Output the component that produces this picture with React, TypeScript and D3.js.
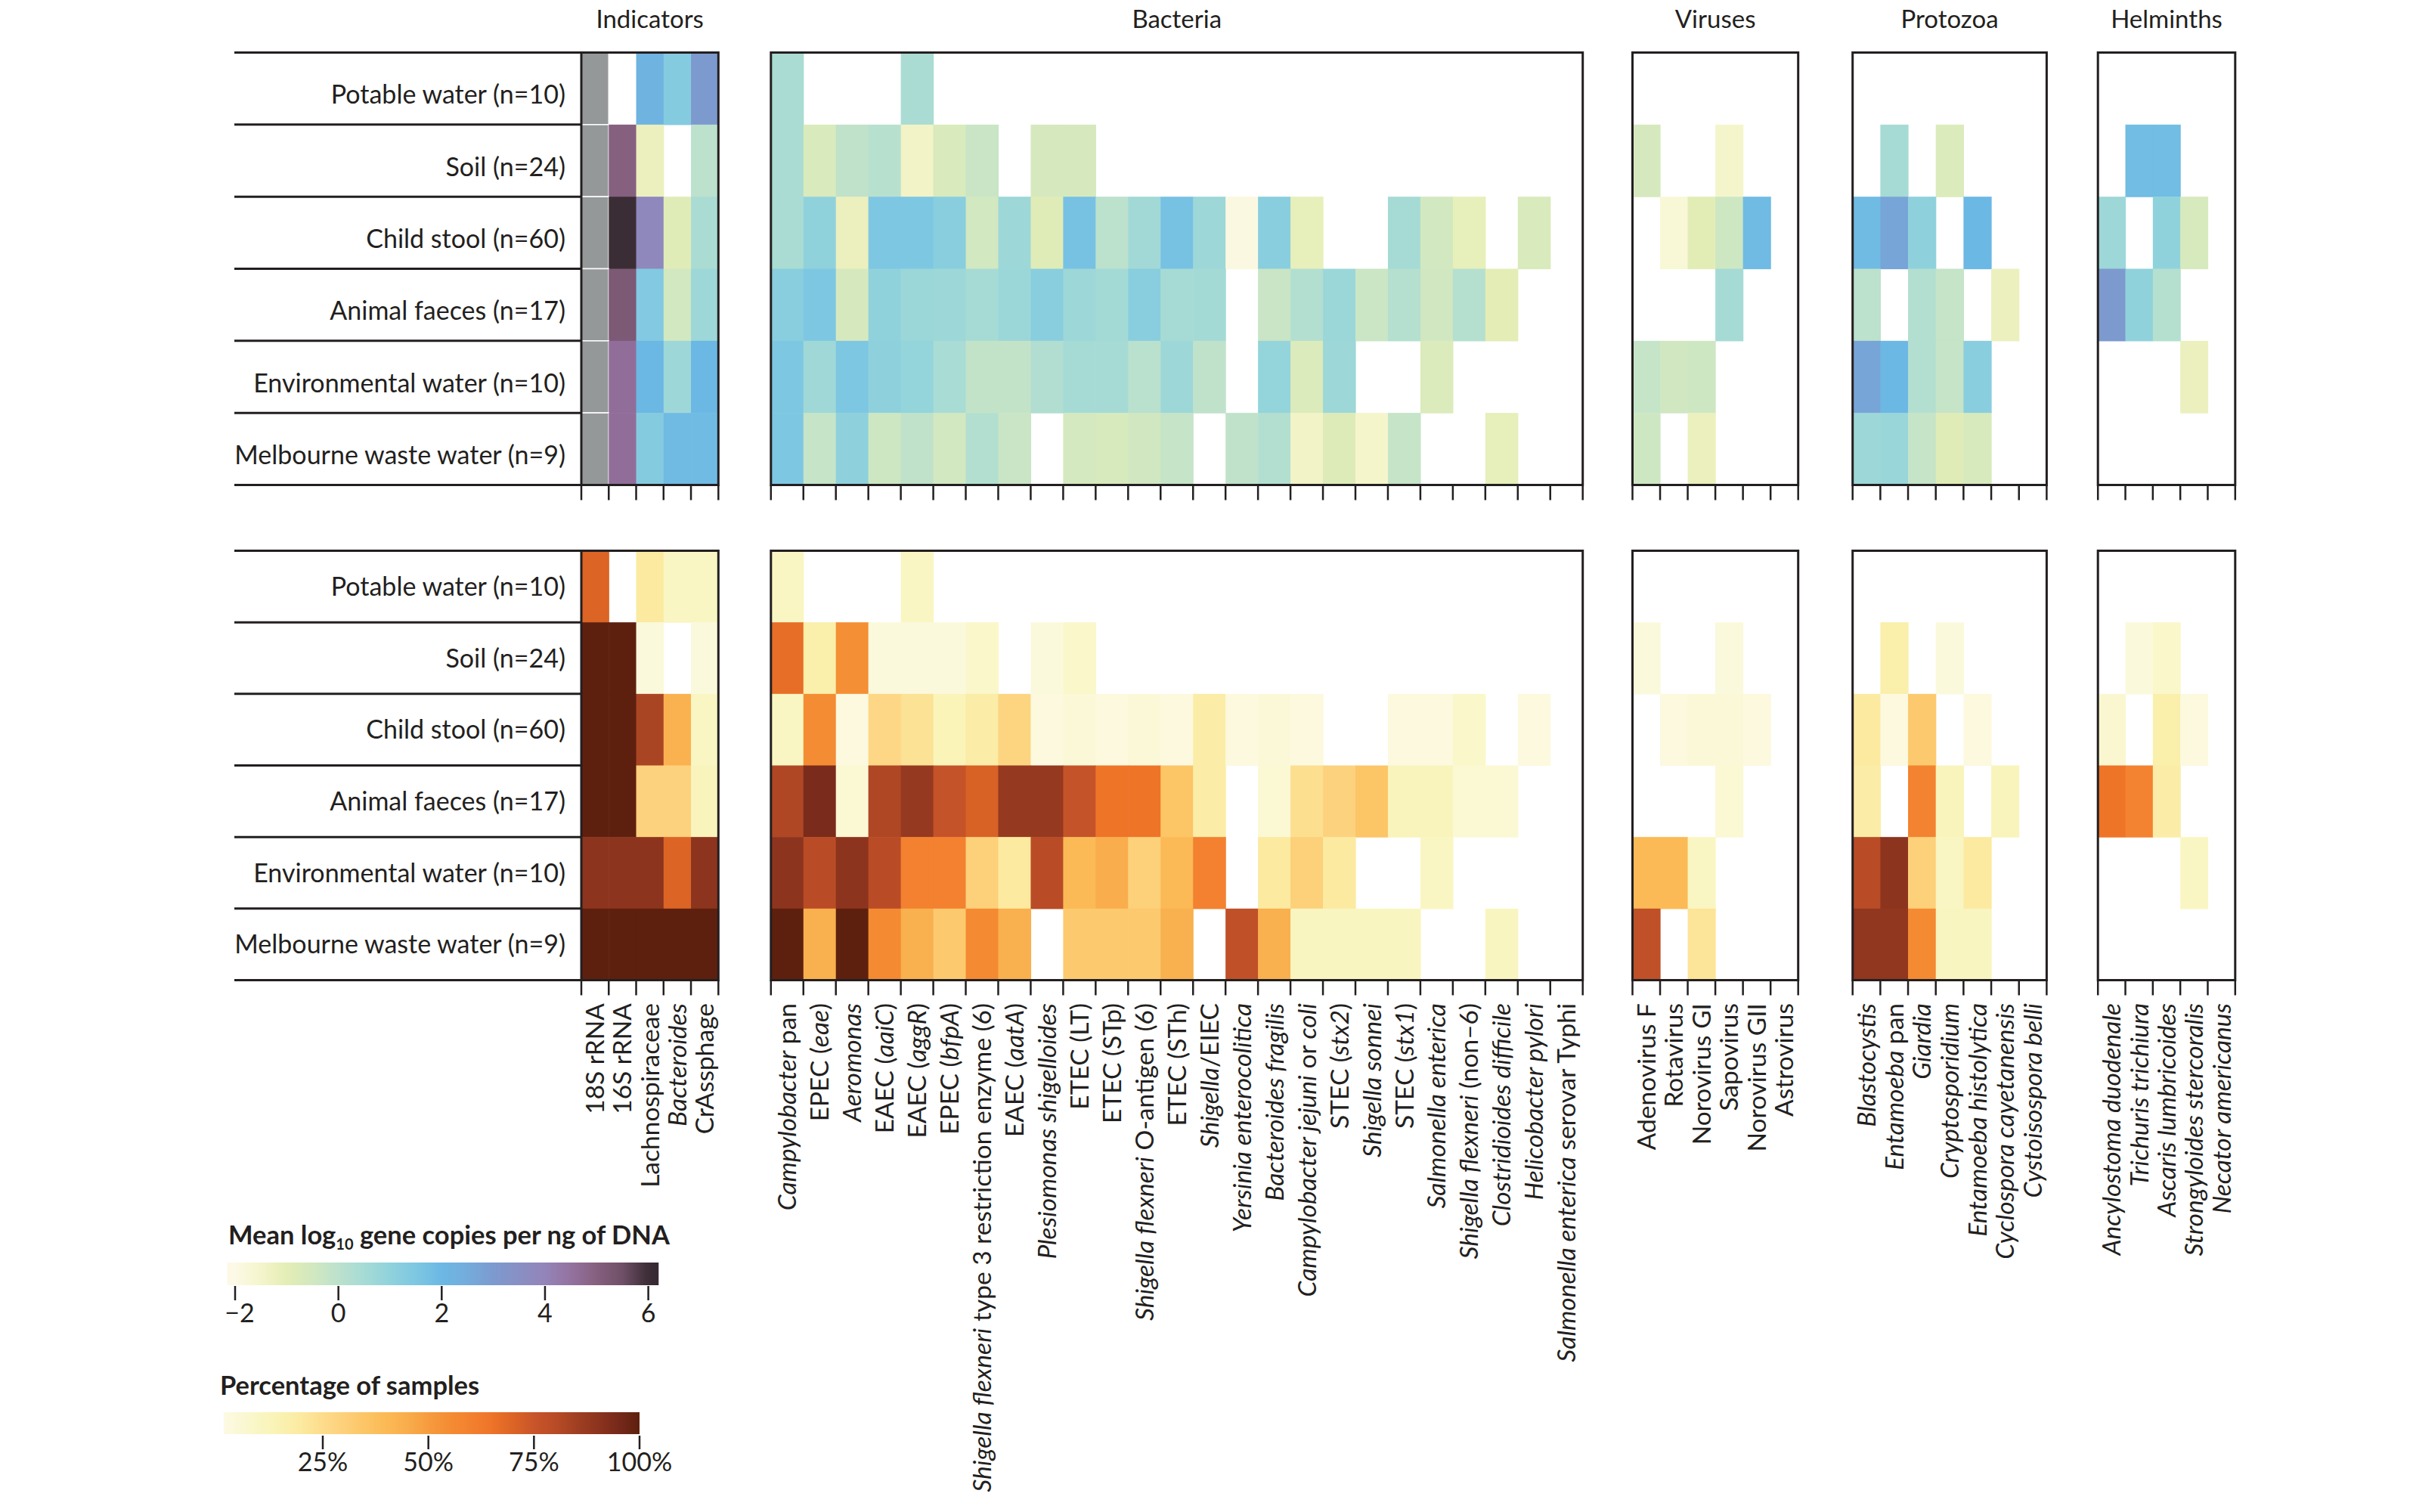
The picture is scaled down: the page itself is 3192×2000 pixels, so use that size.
import React from "react";
import * as d3 from "d3";

// ---------- DATA ----------
const sampleTypes = [
  "Potable water (n=10)",
  "Soil (n=24)",
  "Child stool (n=60)",
  "Animal faeces (n=17)",
  "Environmental water (n=10)",
  "Melbourne waste water (n=9)",
];

const indicatorTargets = ["18S rRNA", "16S rRNA", "Lachnospiraceae", "*Bacteroides*", "CrAssphage"];
const bacteriaTargets = [
  "*Campylobacter* pan",
  "EPEC (*eae*)",
  "*Aeromonas*",
  "EAEC (*aaiC*)",
  "EAEC (*aggR*)",
  "EPEC (*bfpA*)",
  "*Shigella flexneri* type 3 restriction enzyme (6)",
  "EAEC (*aatA*)",
  "*Plesiomonas shigelloides*",
  "ETEC (LT)",
  "ETEC (STp)",
  "*Shigella flexneri* O-antigen (6)",
  "ETEC (STh)",
  "*Shigella*/EIEC",
  "*Yersinia enterocolitica*",
  "*Bacteroides fragilis*",
  "*Campylobacter jejuni* or *coli*",
  "STEC (*stx2*)",
  "*Shigella sonnei*",
  "STEC (*stx1*)",
  "*Salmonella enterica*",
  "*Shigella flexneri* (non–6)",
  "*Clostridioides difficile*",
  "*Helicobacter pylori*",
  "*Salmonella enterica* serovar Typhi",
];
const virusTargets = ["Adenovirus F", "Rotavirus", "Norovirus GI", "Sapovirus", "Norovirus GII", "Astrovirus"];
const protozoaTargets = [
  "*Blastocystis*",
  "*Entamoeba* pan",
  "*Giardia*",
  "*Cryptosporidium*",
  "*Entamoeba histolytica*",
  "*Cyclospora cayetanensis*",
  "*Cystoisospora belli*",
];
const helminthTargets = [
  "*Ancylostoma duodenale*",
  "*Trichuris trichiura*",
  "*Ascaris lumbricoides*",
  "*Strongyloides stercoralis*",
  "*Necator americanus*",
];

// "nq" = not quantified (grey), null = not detected (blank)
const NQ = "nq";
const _ = null;

// Mean log10 gene copies per ng of DNA
const indicatorLog = [
  [NQ, _, 2.2, 1.3, 3.0],
  [NQ, 5.0, -1.2, _, 0.0],
  [NQ, 6.0, 3.8, -0.9, 0.4],
  [NQ, 5.2, 1.4, -0.5, 0.7],
  [NQ, 4.6, 2.0, 0.7, 2.0],
  [NQ, 4.6, 1.3, 1.9, 1.9],
];
const bacteriaLog = [
  [0.4, _, _, _, 0.4, _, _, _, _, _, _, _, _, _, _, _, _, _, _, _, _, _, _, _, _],
  [0.4, -0.7, -0.1, 0.1, -1.4, -0.7, -0.3, _, -0.6, -0.6, _, _, _, _, _, _, _, _, _, _, _, _, _, _, _],
  [0.4, 1.0, -1.2, 1.5, 1.5, 1.2, -0.5, 0.7, -0.9, 1.7, 0.0, 0.6, 1.7, 0.7, -1.9, 1.2, -1.1, _, _, 0.5, -0.5, -1.1, _, -0.7, _],
  [1.2, 1.5, -0.6, 1.0, 0.75, 0.7, 0.5, 0.75, 1.2, 0.7, 0.55, 1.2, 0.5, 0.55, _, -0.3, 0.2, 0.75, -0.35, 0.15, -0.45, 0.15, -1.0, _, _],
  [1.5, 0.65, 1.5, 1.05, 0.9, 0.45, -0.15, -0.15, 0.25, 0.5, 0.5, 0.05, 0.7, -0.1, _, 0.9, -0.75, 0.7, _, _, -0.75, _, _, _, _],
  [1.5, -0.2, 1.05, -0.4, -0.1, -0.5, 0.2, -0.3, _, -0.55, -0.65, -0.45, -0.2, _, -0.1, 0.2, -1.4, -0.8, -1.5, -0.2, _, _, -1.1, _, _],
];
const virusLog = [
  [_, _, _, _, _, _],
  [-0.6, _, _, -1.5, _, _],
  [_, -1.7, -0.95, -0.4, 1.9, _],
  [_, _, _, 0.5, _, _],
  [-0.2, -0.45, -0.4, _, _, _],
  [-0.4, _, -1.2, _, _, _],
];
const protozoaLog = [
  [_, _, _, _, _, _, _],
  [_, 0.5, _, -0.75, _, _, _],
  [1.9, 2.7, 1.05, _, 2.0, _, _],
  [0.0, _, 0.2, -0.2, _, -1.2, _],
  [2.7, 2.0, 0.2, -0.2, 1.2, _, _],
  [0.7, 0.8, -0.2, -0.9, -0.65, _, _],
];
const helminthLog = [
  [_, _, _, _, _],
  [_, 1.85, 1.85, _, _],
  [0.7, _, 1.0, -0.65, _],
  [3.0, 1.0, 0.15, _, _],
  [_, _, _, -1.2, _],
  [_, _, _, _, _],
];

// Percentage of samples positive
const indicatorPct = [
  [70, _, 20, 10, 10],
  [100, 100, 4, _, 4],
  [100, 100, 83, 43, 10],
  [100, 100, 29, 29, 12],
  [90, 90, 90, 70, 90],
  [100, 100, 100, 100, 100],
];
const bacteriaPct = [
  [10, _, _, _, 10, _, _, _, _, _, _, _, _, _, _, _, _, _, _, _, _, _, _, _, _],
  [67, 17, 54, 4, 4, 4, 8, _, 4, 8, _, _, _, _, _, _, _, _, _, _, _, _, _, _, _],
  [10, 55, 3, 27, 23, 13, 18, 28, 3, 5, 3, 5, 3, 18, 3, 5, 3, _, _, 3, 3, 8, _, 3, _],
  [82, 94, 6, 82, 88, 76, 71, 88, 88, 76, 65, 65, 35, 18, _, 6, 24, 29, 35, 12, 12, 6, 6, _, _],
  [90, 80, 90, 80, 60, 60, 30, 20, 80, 40, 45, 30, 40, 60, _, 20, 30, 20, _, _, 10, _, _, _, _],
  [100, 44, 100, 56, 44, 33, 56, 44, _, 33, 33, 33, 44, _, 78, 44, 11, 11, 11, 11, _, _, 11, _, _],
];
const virusPct = [
  [_, _, _, _, _, _],
  [4, _, _, 4, _, _],
  [_, 3, 5, 5, 3, _],
  [_, _, _, 6, _, _],
  [40, 40, 10, _, _, _],
  [78, _, 22, _, _, _],
];
const protozoaPct = [
  [_, _, _, _, _, _, _],
  [_, 17, _, 4, _, _, _],
  [20, 3, 33, _, 3, _, _],
  [18, _, 59, 12, _, 12, _],
  [80, 90, 30, 10, 20, _, _],
  [89, 89, 56, 11, 11, _, _],
];
const helminthPct = [
  [_, _, _, _, _],
  [_, 4, 8, _, _],
  [7, _, 17, 3, _],
  [65, 59, 18, _, _],
  [_, _, _, 10, _],
  [_, _, _, _, _],
];

const groupTitles = ["Indicators", "Bacteria", "Viruses", "Protozoa", "Helminths"];
const logTicks = [-2, 0, 2, 4, 6];
const pctTicks = [25, 50, 75, 100];

// ---------- STYLE / LAYOUT ----------
const FONT = "Lato, 'Open Sans', sans-serif";
const INK = "#231f20";
const GREY = "#959899";

const logStops = [-2.15, -2, -1.5, -1, -0.5, 0, 0.5, 1, 1.5, 2, 2.5, 3, 4, 4.5, 5, 5.5, 6, 6.2];
const logColors = [
  "#fcf8e4", "#fcf9e6", "#f5f5cc", "#e4edb5", "#d2e8c0", "#bce1cd", "#a6dbd5", "#90d2dc", "#7ec7e2",
  "#6cb8e4", "#74acdc", "#7d9acf", "#9484b9", "#9472a0", "#85607f", "#6f4f67", "#3b2d35", "#352832",
];
const pctStops = [0, 5, 10, 15, 20, 25, 30, 35, 40, 45, 50, 55, 60, 65, 70, 75, 80, 85, 90, 95, 100];
const pctColors = [
  "#fdfbea", "#fbf8d8", "#f9f6c3", "#faf2b2", "#fbeaa0", "#fddc8c", "#fdd07a", "#fcc566", "#fbba55",
  "#f9ad4c", "#f69c3e", "#f48c33", "#f3812f", "#ee7428", "#dc6425", "#c8552a", "#b94c26", "#a04022",
  "#8d341e", "#76291a", "#5e200e",
];

const logColor = d3.scaleLinear<string>().domain(logStops).range(logColors).interpolate(d3.interpolateRgb).clamp(true);
const pctColor = d3.scaleLinear<string>().domain(pctStops).range(pctColors).interpolate(d3.interpolateRgb).clamp(true);

const panelX: [number, number][] = [
  [769, 950.3],
  [1019.8, 2093.7],
  [2159.5, 2378.7],
  [2450.7, 2707.4],
  [2775.2, 2956.8],
];
const TOP_Y: [number, number] = [69.5, 641.5];
const BOT_Y: [number, number] = [728.5, 1296.5];
const LABEL_LINE_X0 = 310;
const LABEL_RIGHT = 748;
const TICK_LEN = 20;
const COL_LABEL_Y = 1327;
const ROW_FS = 34;
const COL_FS = 33.5;
const TITLE_FS = 33;
const LEGEND_TITLE_FS = 34.5;

const groups = [
  { targets: indicatorTargets, log: indicatorLog, pct: indicatorPct },
  { targets: bacteriaTargets, log: bacteriaLog, pct: bacteriaPct },
  { targets: virusTargets, log: virusLog, pct: virusPct },
  { targets: protozoaTargets, log: protozoaLog, pct: protozoaPct },
  { targets: helminthTargets, log: helminthLog, pct: helminthPct },
];

function Rich({ s }: { s: string }) {
  const parts = s.split("*");
  return (
    <>
      {parts.map((p, i) =>
        p ? (
          <tspan key={i} fontStyle={i % 2 === 1 ? "italic" : "normal"}>
            {p}
          </tspan>
        ) : null
      )}
    </>
  );
}

function Panel({
  gi,
  values,
  yRange,
  color,
  showLabels,
}: {
  gi: number;
  values: any[][];
  yRange: [number, number];
  color: (v: number) => string;
  showLabels: boolean;
}) {
  const g = groups[gi];
  const [x0, x1] = panelX[gi];
  const x = d3.scaleBand<string>().domain(g.targets).range([x0, x1]).padding(0);
  const y = d3.scaleBand<string>().domain(sampleTypes).range(yRange).padding(0);
  const bw = x.bandwidth();
  const bh = y.bandwidth();
  const boundaries = [...g.targets.map((t) => x(t) as number), x1];
  return (
    <g>
      {sampleTypes.map((row, i) =>
        g.targets.map((t, j) => {
          const v = values[i][j];
          if (v === null || v === undefined) return null;
          const isNQ = v === NQ;
          return (
            <rect
              key={`${i}-${j}`}
              x={x(t)}
              y={y(row)}
              width={bw + (isNQ ? 0 : 0.6)}
              height={bh + (isNQ ? 0 : 0.6)}
              fill={isNQ ? GREY : color(v as number)}
              stroke={isNQ ? "#ffffff" : "none"}
              strokeWidth={isNQ ? 1.5 : 0}
            />
          );
        })
      )}
      <rect x={x0} y={yRange[0]} width={x1 - x0} height={yRange[1] - yRange[0]} fill="none" stroke={INK} strokeWidth={3} />
      {boundaries.map((bx, k) => (
        <line key={k} x1={bx} x2={bx} y1={yRange[1]} y2={yRange[1] + TICK_LEN} stroke={INK} strokeWidth={2.5} />
      ))}
      {showLabels &&
        g.targets.map((t) => {
          const cx = (x(t) as number) + bw / 2 + COL_FS * 0.36;
          return (
            <text
              key={t}
              transform={`translate(${cx},${COL_LABEL_Y}) rotate(-90)`}
              textAnchor="end"
              fontSize={COL_FS}
              fill={INK}
            >
              <Rich s={t} />
            </text>
          );
        })}
    </g>
  );
}

function RowLabels({ yRange, dy }: { yRange: [number, number]; dy: number }) {
  const y = d3.scaleBand<string>().domain(sampleTypes).range(yRange).padding(0);
  const bounds = [...sampleTypes.map((s) => y(s) as number), yRange[1]];
  return (
    <g>
      {bounds.map((by, k) => (
        <line key={k} x1={LABEL_LINE_X0} x2={panelX[0][0]} y1={by} y2={by} stroke={INK} strokeWidth={3} />
      ))}
      {sampleTypes.map((s) => (
        <text
          key={s}
          x={LABEL_RIGHT}
          y={(y(s) as number) + y.bandwidth() / 2 + dy}
          textAnchor="end"
          fontSize={ROW_FS}
          fill={INK}
        >
          {s}
        </text>
      ))}
    </g>
  );
}

function Legends() {
  const lx = d3.scaleLinear().domain([-2, 6]).range([311, 857.6]);
  const lDom: [number, number] = [-2.15, 6.2];
  const px = d3.scaleLinear().domain([25, 100]).range([427, 846]);
  const pDom: [number, number] = [1.6, 100];
  const nStops = 60;
  const logGrad = d3.range(nStops + 1).map((k) => {
    const v = lDom[0] + ((lDom[1] - lDom[0]) * k) / nStops;
    return { off: (k / nStops) * 100, c: logColor(v) };
  });
  const pctGrad = d3.range(nStops + 1).map((k) => {
    const v = pDom[0] + ((pDom[1] - pDom[0]) * k) / nStops;
    return { off: (k / nStops) * 100, c: pctColor(v) };
  });
  return (
    <g>
      <defs>
        <linearGradient id="logGrad" x1="0" x2="1" y1="0" y2="0">
          {logGrad.map((s, i) => (
            <stop key={i} offset={`${s.off}%`} stopColor={s.c} />
          ))}
        </linearGradient>
        <linearGradient id="pctGrad" x1="0" x2="1" y1="0" y2="0">
          {pctGrad.map((s, i) => (
            <stop key={i} offset={`${s.off}%`} stopColor={s.c} />
          ))}
        </linearGradient>
      </defs>
      <text x={302} y={1646} fontSize={LEGEND_TITLE_FS} fontWeight={700} fill={INK}>
        Mean log
        <tspan fontSize={20} dy={7}>
          10
        </tspan>
        <tspan dy={-7}> gene copies per ng of DNA</tspan>
      </text>
      <rect x={lx(lDom[0])} y={1670} width={lx(lDom[1]) - lx(lDom[0])} height={30} fill="url(#logGrad)" />
      {logTicks.map((t) => (
        <g key={t}>
          <line x1={lx(t)} x2={lx(t)} y1={1701} y2={1720} stroke={INK} strokeWidth={2.5} />
          <text x={lx(t) + (t < 0 ? 6 : 0)} y={1749} fontSize={34} textAnchor="middle" fill={INK}>
            {t < 0 ? `−${Math.abs(t)}` : t}
          </text>
        </g>
      ))}
      <text x={291} y={1845} fontSize={LEGEND_TITLE_FS} fontWeight={700} fill={INK}>
        Percentage of samples
      </text>
      <rect x={296} y={1868} width={px(pDom[1]) - 296} height={29} fill="url(#pctGrad)" />
      {pctTicks.map((t) => (
        <g key={t}>
          <line x1={px(t)} x2={px(t)} y1={1899} y2={1917} stroke={INK} strokeWidth={2.5} />
          <text x={px(t)} y={1946} fontSize={34} textAnchor="middle" fill={INK}>
            {`${t}%`}
          </text>
        </g>
      ))}
    </g>
  );
}

export default function App() {
  return (
    <div style={{ position: "fixed", left: 0, top: 0, width: 3192, height: 2000, background: "#fff" }}>
      <svg width={3192} height={2000} style={{ display: "block", fontFamily: FONT }}>
        <rect x={0} y={0} width={3192} height={2000} fill="#ffffff" />
        {groupTitles.map((t, gi) => (
          <text
            key={t}
            x={(panelX[gi][0] + panelX[gi][1]) / 2}
            y={37}
            textAnchor="middle"
            fontSize={TITLE_FS}
            fill={INK}
          >
            {t}
          </text>
        ))}
        <RowLabels yRange={TOP_Y} dy={20} />
        <RowLabels yRange={BOT_Y} dy={12} />
        {groups.map((g, gi) => (
          <Panel key={`t${gi}`} gi={gi} values={g.log} yRange={TOP_Y} color={(v) => logColor(v)} showLabels={false} />
        ))}
        {groups.map((g, gi) => (
          <Panel key={`b${gi}`} gi={gi} values={g.pct} yRange={BOT_Y} color={(v) => pctColor(v)} showLabels={true} />
        ))}
        <Legends />
      </svg>
    </div>
  );
}
